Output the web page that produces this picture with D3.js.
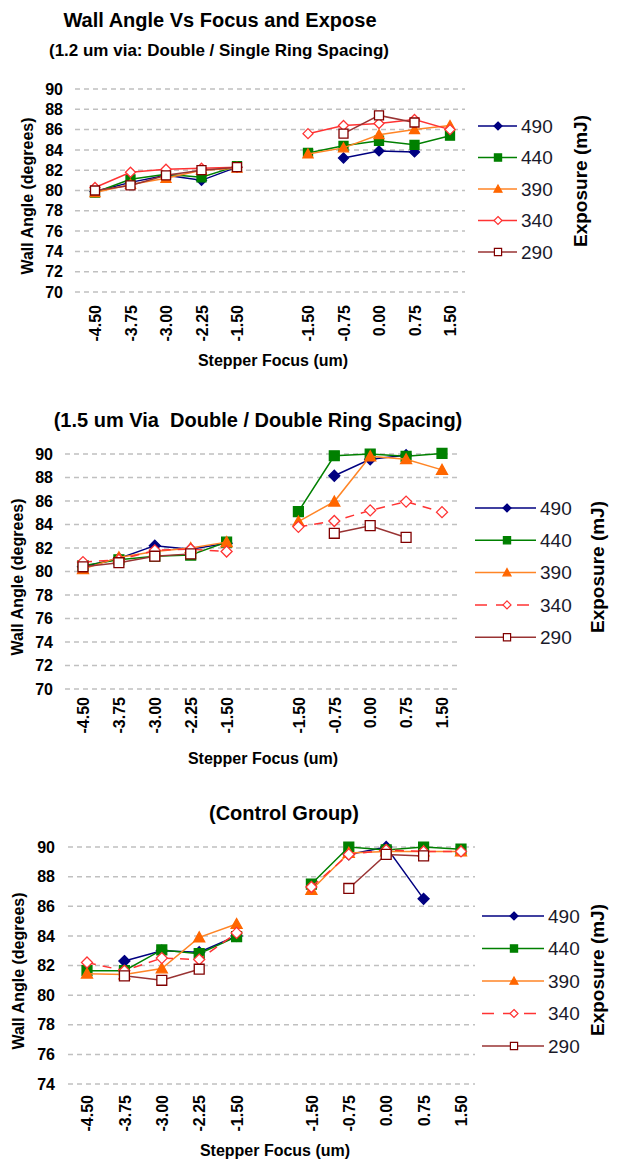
<!DOCTYPE html>
<html><head><meta charset="utf-8">
<script src="https://cdn.jsdelivr.net/npm/d3@7"></script>
<style>
html,body{margin:0;padding:0;background:#fff;}
svg{display:block;font-family:"Liberation Sans",Arial,sans-serif;}
</style></head>
<body>
<svg id="c" width="617" height="1167"></svg>
<script>
// ---------- DATA ----------
const focusLabels = ["-4.50","-3.75","-3.00","-2.25","-1.50","","-1.50","-0.75","0.00","0.75","1.50"];
const exposures = ["490","440","390","340","290"];
const yTicks1 = [70,72,74,76,78,80,82,84,86,88,90];
const yTicks2 = [70,72,74,76,78,80,82,84,86,88,90];
const yTicks3 = [74,76,78,80,82,84,86,88,90];

// Chart 1: 1.2 um via, Double / Single ring spacing
const c1_490 = [79.9, 80.8, 81.5, 81.0, 82.3, null, null, 83.2, 83.9, 83.8, null];
const c1_440 = [79.8, 81.1, 81.6, 81.3, 82.4, null, 83.7, 84.4, 84.9, 84.5, 85.4];
const c1_390 = [79.8, 80.6, 81.2, 82.0, 82.2, null, 83.6, 84.2, 85.5, 86.0, 86.4];
const c1_340 = [80.3, 81.8, 82.1, 82.2, 82.3, null, 85.6, 86.4, 86.6, 87.0, 86.0];
const c1_290 = [80.0, 80.5, 81.5, 82.0, 82.3, null, null, 85.6, 87.4, 86.7, null];

// Chart 2: 1.5 um via, Double / Double ring spacing
const c2_490 = [80.4, 81.1, 82.2, 81.9, 82.4, null, null, 88.15, 89.55, 89.9, null];
const c2_440 = [80.5, 81.0, 81.3, 81.4, 82.5, null, 85.1, 89.85, 90.0, 89.8, 90.05];
const c2_390 = [80.2, 81.2, 81.7, 82.0, 82.5, null, 84.25, 85.95, 89.8, 89.55, 88.65];
const c2_340 = [80.8, 81.0, 81.8, 81.9, 81.7, null, 83.8, 84.3, 85.2, 85.95, 85.05];
const c2_290 = [80.4, 80.75, 81.3, 81.5, null, null, null, 83.25, 83.9, 82.9, null];

// Chart 3: Control group
const c3_490 = [null, 82.3, 83.0, 82.9, 84.0, null, null, 89.5, 90.0, 86.5, null];
const c3_440 = [81.65, 81.65, 83.05, 82.8, 83.95, null, 87.5, 90.0, 89.8, 90.0, 89.85];
const c3_390 = [81.45, 81.4, 81.8, 83.9, 84.8, null, 87.1, 89.6, 89.7, 89.7, 89.7];
const c3_340 = [82.2, 81.65, 82.5, 82.4, 84.2, null, 87.3, 89.5, 89.8, 89.7, 89.7];
const c3_290 = [null, 81.3, 81.0, 81.75, null, null, null, 87.2, 89.5, 89.4, null];

// ---------- STYLES ----------
const styles = [
  {line:"#000080", marker:"diamond", fill:"#000080", stroke:"#000080"},
  {line:"#008000", marker:"square",  fill:"#008000", stroke:"#008000"},
  {line:"#ff8526", marker:"triangle",fill:"#ff6600", stroke:"#ff6600"},
  {line:"#ff3333", marker:"diamond", fill:"#ffffff", stroke:"#ff3333"},
  {line:"#993333", marker:"square",  fill:"#ffffff", stroke:"#800000"}
];

function markerPath(type, s){
  if(type==="diamond") return `M0,${-s}L${s},0L0,${s}L${-s},0Z`;
  if(type==="square") { const h=s*0.9; return `M${-h},${-h}H${h}V${h}H${-h}Z`; }
  if(type==="triangle") return `M0,${-s}L${s},${s*0.8}L${-s},${s*0.8}Z`;
}

const svg = d3.select("#c");
const FONT = "'Liberation Sans',Arial,sans-serif";

function drawChart(cfg){
  const g = svg.append("g");
  const x = d3.scalePoint().domain(d3.range(focusLabels.length)).range([cfg.x0, cfg.x1]);
  const y = d3.scaleLinear().domain([cfg.yTicks[0], cfg.yTicks[cfg.yTicks.length-1]]).range([cfg.yBottom, cfg.yTop]);

  // titles
  cfg.titles.forEach(t=>{
    g.append("text").attr("x",t.x).attr("y",t.y).attr("text-anchor","middle")
     .attr("font-size",t.size).attr("font-weight","bold").attr("fill","#000")
     .style("white-space","pre").text(t.text);
  });

  // gridlines
  g.append("g").selectAll("line").data(cfg.yTicks).join("line")
    .attr("x1",cfg.gridL).attr("x2",cfg.gridR)
    .attr("y1",d=>y(d)).attr("y2",d=>y(d))
    .attr("stroke","#c0c0c0").attr("stroke-width",1.5).attr("stroke-dasharray","5,4");

  // y axis labels
  const ya = g.append("g").attr("transform",`translate(${cfg.yLabelX},0)`)
    .call(d3.axisLeft(y).tickValues(cfg.yTicks).tickSize(0).tickPadding(0).tickFormat(d3.format("d")));
  ya.select(".domain").remove();
  ya.selectAll("text").attr("font-size",16).attr("font-weight","bold").attr("font-family",FONT).attr("fill","#000");

  // x axis labels
  const xa = g.append("g").attr("transform",`translate(0,${cfg.xLabelTop})`)
    .call(d3.axisBottom(x).tickSize(0).tickPadding(0).tickFormat(i=>focusLabels[i]));
  xa.select(".domain").remove();
  xa.selectAll("text").attr("transform","rotate(-90)").attr("text-anchor","end")
    .attr("x",0).attr("y",0).attr("dy","0.36em")
    .attr("font-size",16).attr("font-weight","bold").attr("font-family",FONT).attr("fill","#000");

  // axis titles
  g.append("text").attr("transform",`translate(${cfg.yTitle[0]},${cfg.yTitle[1]}) rotate(-90)`)
    .attr("text-anchor","middle").attr("dy","0.35em").attr("font-size",16).attr("font-weight","bold").text("Wall Angle (degrees)");
  g.append("text").attr("x",cfg.xTitle[0]).attr("y",cfg.xTitle[1]).attr("text-anchor","middle")
    .attr("dy","0.35em").attr("font-size",16).attr("font-weight","bold").text("Stepper Focus (um)");

  // series
  const line = d3.line().defined(d=>d.v!=null).x(d=>x(d.i)).y(d=>y(d.v));
  cfg.series.forEach((vals,si)=>{
    const st = styles[si];
    const pts = vals.map((v,i)=>({i,v}));
    const dash = (si===3 && cfg.dashed340) ? "9,7" : null;
    g.append("path").datum(pts).attr("d",line).attr("fill","none")
      .attr("stroke",st.line).attr("stroke-width",1.5).attr("stroke-dasharray",dash);
    g.append("g").selectAll("path").data(pts.filter(d=>d.v!=null)).join("path")
      .attr("transform",d=>`translate(${x(d.i)},${y(d.v)})`)
      .attr("d",markerPath(st.marker, cfg.ms))
      .attr("fill",st.fill).attr("stroke",st.stroke).attr("stroke-width",1.3);
  });

  // legend
  const L = cfg.legend;
  exposures.forEach((e,si)=>{
    const st = styles[si];
    const yy = L.y0 + L.dy*si;
    const dash = (si===3 && cfg.dashed340) ? "12,9" : null;
    g.append("line").attr("x1",L.x1).attr("x2",L.x2).attr("y1",yy).attr("y2",yy)
      .attr("stroke",st.line).attr("stroke-width",1.5).attr("stroke-dasharray",dash);
    g.append("path").attr("transform",`translate(${L.mx},${yy})`).attr("d",markerPath(st.marker,4))
      .attr("fill",st.fill).attr("stroke",st.stroke).attr("stroke-width",1.2);
    g.append("text").attr("x",L.tx).attr("y",yy).attr("dy","0.36em").attr("font-size",19)
      .attr("fill","#1a1a2a").text(e);
  });
  g.append("text").attr("transform",`translate(${L.ex},${L.ey}) rotate(-90)`)
    .attr("text-anchor","middle").attr("dy","0.35em").attr("font-size",19).attr("font-weight","bold").text("Exposure (mJ)");
}

drawChart({
  titles:[{text:"Wall Angle Vs Focus and Expose",x:220,y:27,size:20},
          {text:"(1.2 um via: Double / Single Ring Spacing)",x:219,y:56,size:17}],
  series:[c1_490,c1_440,c1_390,c1_340,c1_290], dashed340:false,
  yTicks:yTicks1, x0:95, x1:450, yTop:89, yBottom:292, gridL:75, gridR:465,
  yLabelX:63, xLabelTop:305, yTitle:[27,196], xTitle:[273,360], ms:5,
  legend:{x1:478,x2:517,mx:498,tx:521,y0:126,dy:31.5,ex:580,ey:181}
});
drawChart({
  titles:[{text:"(1.5 um Via  Double / Double Ring Spacing)",x:258,y:427,size:20}],
  series:[c2_490,c2_440,c2_390,c2_340,c2_290], dashed340:true,
  yTicks:yTicks2, x0:83, x1:442, yTop:454, yBottom:689, gridL:65, gridR:457,
  yLabelX:53, xLabelTop:697, yTitle:[17,577], xTitle:[263,758], ms:5.5,
  legend:{x1:475,x2:536,mx:507,tx:540,y0:508,dy:32.3,ex:597,ey:567}
});
drawChart({
  titles:[{text:"(Control Group)",x:284,y:820,size:20}],
  series:[c3_490,c3_440,c3_390,c3_340,c3_290], dashed340:true,
  yTicks:yTicks3, x0:87, x1:461, yTop:847, yBottom:1084, gridL:68, gridR:475,
  yLabelX:55, xLabelTop:1095, yTitle:[18,971], xTitle:[275,1150], ms:5.5,
  legend:{x1:482,x2:544,mx:514,tx:548,y0:916,dy:32.5,ex:597,ey:970}
});
</script>
</body></html>
